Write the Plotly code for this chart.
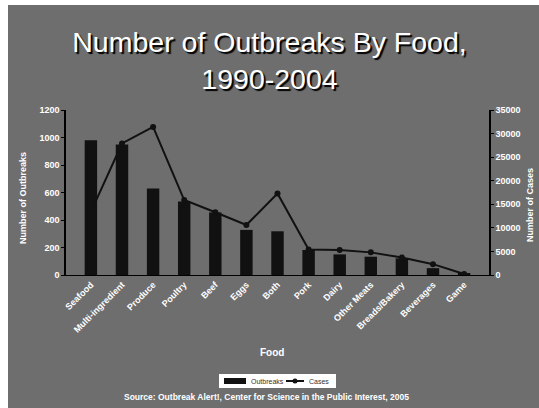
import plotly.graph_objects as go

foods = ["Seafood", "Multi-ingredient", "Produce", "Poultry", "Beef", "Eggs", "Both",
         "Pork", "Dairy", "Other Meats", "Breads/Bakery", "Beverages", "Game"]
outbreaks = [980, 950, 630, 535, 455, 328, 318, 182, 150, 133, 121, 50, 10]
cases = [13400, 27900, 31400, 15900, 13300, 10600, 17300, 5400, 5300, 4800, 3700, 2300, 200]

left_ticks = [0, 200, 400, 600, 800, 1000, 1200]
right_ticks = [0, 5000, 10000, 15000, 20000, 25000, 30000, 35000]

W, H = 539, 408
L, R, T, B = 66, 50, 110, 133
pw, ph = W - L - R, H - T - B

def px(x):
    return (x - L) / pw

def py(y):
    return (H - B - y) / ph

lbl = dict(family="Liberation Sans, Arial, sans-serif", color="white", size=9, weight="bold")
leg_font = dict(family="Liberation Sans, Arial, sans-serif", color="#333333", size=7)

fig = go.Figure()
fig.add_trace(go.Bar(x=foods, y=outbreaks, name="Outbreaks", marker_color="#111111",
                     marker_line_width=0))
fig.add_trace(go.Scatter(x=foods, y=cases, name="Cases", yaxis="y2", mode="lines+markers",
                         line=dict(color="#111111", width=2),
                         marker=dict(color="#111111", size=6, symbol="circle")))

legend_shapes = [
    dict(type="rect", xref="paper", yref="paper", x0=px(219), x1=px(336), y0=py(388), y1=py(374),
         fillcolor="white", line_width=0, layer="above"),
    dict(type="rect", xref="paper", yref="paper", x0=px(224), x1=px(246), y0=py(384), y1=py(378),
         fillcolor="#111111", line_width=0, layer="above"),
    dict(type="line", xref="paper", yref="paper", x0=px(286), x1=px(304), y0=py(381), y1=py(381),
         line=dict(color="#111111", width=2), layer="above"),
    dict(type="circle", xref="paper", yref="paper", x0=px(292.5), x1=px(297.5), y0=py(383.5),
         y1=py(378.5), fillcolor="#111111", line_width=0, layer="above"),
]

def ann(text, x, y, font, **kw):
    d = dict(text=text, x=px(x), y=py(y), xref="paper", yref="paper", showarrow=False,
             xanchor="center", yanchor="middle", font=font)
    d.update(kw)
    return d

fig.update_layout(
    width=W, height=H,
    margin=dict(l=L, r=R, t=T, b=B, autoexpand=False),
    paper_bgcolor="white",
    plot_bgcolor="white",
    bargap=0.6,
    showlegend=False,
    title=dict(text="Number of Outbreaks By Food,<br>1990-2004", x=0.5, xanchor="center",
               y=1 - 52 / H, yanchor="middle", yref="container",
               font=dict(family="Liberation Sans, Arial, sans-serif", size=28.5, color="white",
                         shadow="2px 2px 1px black")),
    xaxis=dict(type="category", tickangle=-45, tickfont=lbl, showline=True, linecolor="black",
               ticks="", showgrid=False),
    yaxis=dict(range=[0, 1200], tickvals=left_ticks, tickfont=lbl, showline=True,
               linecolor="black", linewidth=1.5, ticks="outside", ticklen=3, tickcolor="black",
               showgrid=False, zeroline=False),
    yaxis2=dict(range=[0, 35000], tickvals=right_ticks, tickformat="d", tickfont=lbl,
                overlaying="y", side="right", showline=True, linecolor="black", linewidth=1.5,
                ticks="outside", ticklen=3, tickcolor="black", showgrid=False, zeroline=False),
    shapes=[dict(type="rect", xref="paper", yref="paper", x0=px(8), x1=px(W + 2),
                 y0=py(H + 2), y1=py(5), fillcolor="#6e6e6e", line_width=0, layer="below")]
           + legend_shapes,
    annotations=[
        ann("Food", 272, 352, dict(lbl, size=10)),
        ann("Outbreaks", 249, 381, leg_font, xanchor="left"),
        ann("Cases", 307, 381, leg_font, xanchor="left"),
        ann("Source: Outbreak Alert!, Center for Science in the Public Interest, 2005",
            266, 397, dict(lbl, size=8.5)),
        ann("Number of Outbreaks", 23, 198, dict(lbl, size=9), textangle=-90),
        ann("Number of Cases", 530, 205, dict(lbl, size=9), textangle=-90),
    ],
)

fig.write_html("out.html")
